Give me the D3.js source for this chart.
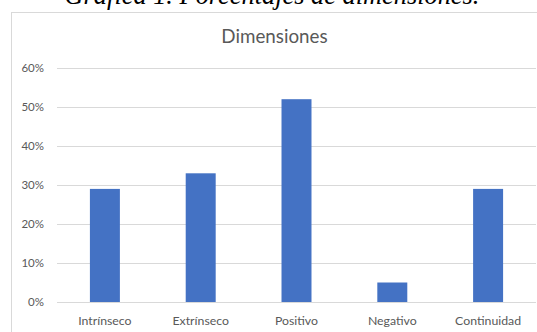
<!DOCTYPE html>
<html>
<head>
<meta charset="utf-8">
<script src="https://cdn.jsdelivr.net/npm/d3@7"></script>
<style>
  html, body { margin: 0; padding: 0; background: #fff; }
  svg { display: block; }
</style>
</head>
<body>
<svg id="chart" width="537" height="332"></svg>
<script>
const categories = ["Intrínseco", "Extrínseco", "Positivo", "Negativo", "Continuidad"];
const values = [0.29, 0.33, 0.52, 0.05, 0.29];
const yTicks = [0, 0.1, 0.2, 0.3, 0.4, 0.5, 0.6];
const chartTitle = "Dimensiones";
const caption = "Gráfica 1. Porcentajes de dimensiones.";

const svg = d3.select("#chart");
const plot = { left: 57, right: 536, top: 68, bottom: 302 };

// caption (cut off at top, as in the reference)
const cap = svg.append("text")
  .attr("x", 272).attr("y", 3.5)
  .attr("text-anchor", "middle")
  .attr("font-family", "'Liberation Serif', serif")
  .attr("font-style", "italic")
  .attr("font-size", 22)
  .attr("fill", "#000")
  .text(caption);
const capLen = cap.node().getComputedTextLength();
cap.attr("font-size", 22 * 415 / capLen);

// chart frame
svg.append("rect")
  .attr("x", 11.5).attr("y", 12.5)
  .attr("width", 527).attr("height", 330)
  .attr("fill", "#fff")
  .attr("stroke", "#d9d9d9").attr("stroke-width", 1);

const x = d3.scaleBand()
  .domain(categories)
  .range([plot.left, plot.right])
  .paddingInner(0.687)
  .paddingOuter(0.3435);

const y = d3.scaleLinear()
  .domain([0, 0.6])
  .range([plot.bottom, plot.top]);

// gridlines
svg.append("g")
  .selectAll("line")
  .data(yTicks)
  .join("line")
  .attr("x1", plot.left).attr("x2", plot.right)
  .attr("y1", d => Math.round(y(d)) + 0.5)
  .attr("y2", d => Math.round(y(d)) + 0.5)
  .attr("stroke", "#d9d9d9").attr("stroke-width", 1);

// y axis labels
const yAxis = d3.axisLeft(y).tickValues(yTicks).tickFormat(d3.format(".0%")).tickSize(0).tickPadding(13);
const gy = svg.append("g").attr("transform", `translate(${plot.left},0)`).call(yAxis);
gy.select(".domain").remove();
gy.selectAll("text")
  .attr("font-family", "Lato, 'Open Sans', sans-serif")
  .attr("font-size", 11.5)
  .attr("fill", "#595959");

// bars
svg.append("g")
  .selectAll("rect")
  .data(values)
  .join("rect")
  .attr("x", (d, i) => x(categories[i]))
  .attr("width", x.bandwidth())
  .attr("y", d => y(d))
  .attr("height", d => y(0) - y(d))
  .attr("fill", "#4472c4");

// x axis labels
const xAxis = d3.axisBottom(x).tickSize(0).tickPadding(14);
const gx = svg.append("g").attr("transform", `translate(0,${plot.bottom})`).call(xAxis);
gx.select(".domain").remove();
gx.selectAll("text")
  .attr("font-family", "Lato, 'Open Sans', sans-serif")
  .attr("font-size", 12.3)
  .attr("fill", "#595959");

// title
svg.append("text")
  .attr("x", 274.5).attr("y", 43)
  .attr("text-anchor", "middle")
  .attr("font-family", "Lato, 'Open Sans', sans-serif")
  .attr("font-size", 18.8)
  .attr("fill", "#595959")
  .text(chartTitle);
</script>
</body>
</html>
